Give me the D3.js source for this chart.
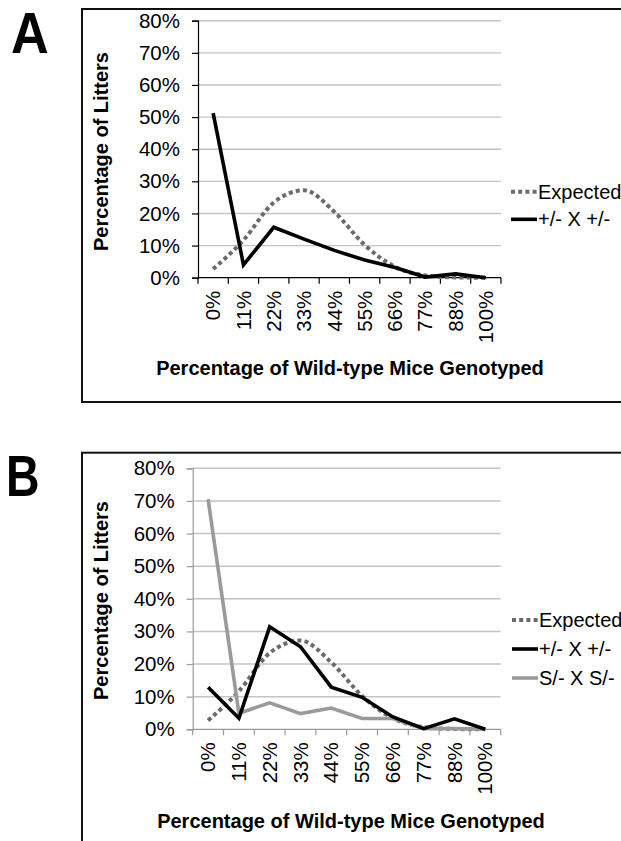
<!DOCTYPE html>
<html>
<head>
<meta charset="utf-8">
<script src="https://cdn.jsdelivr.net/npm/d3@7"></script>
<style>
  body { margin: 0; background: #fff; }
  svg { display: block; }
  text { font-family: "Liberation Sans", Arial, sans-serif; fill: #000; }
</style>
</head>
<body>
<div id="chart"></div>
<script>
const categories = ["0%", "11%", "22%", "33%", "44%", "55%", "66%", "77%", "88%", "100%"];
const yTicks = [0, 10, 20, 30, 40, 50, 60, 70, 80];

// values in percent
const expected = [2.7, 11.7, 23.4, 27.2, 20.5, 10.2, 3.4, 0.7, 0.1, 0];
const hetA = [51.2, 4.0, 15.7, 12.0, 8.5, 5.5, 3.2, 0.2, 1.2, 0];
const hetB = [12.9, 3.4, 31.4, 25.3, 12.9, 9.8, 3.8, 0.2, 3.2, 0];
const sB = [70.5, 4.9, 8.1, 4.8, 6.5, 3.3, 3.3, 0.2, 0.2, 0];

const W = 621, H = 841;

const svg = d3.select("#chart")
  .append("svg")
  .attr("width", W)
  .attr("height", H);

const STYLE = {
  expected: { stroke: "#6b6b6b", width: 4, dash: "4,3.2" },
  het: { stroke: "#000", width: 3.6, dash: null },
  s: { stroke: "#9a9a9a", width: 3.6, dash: null }
};

function drawPanel(p) {
  const g = svg.append("g");

  // outer frame (runs off the page edge like the original)
  g.append("rect")
    .attr("x", p.box[0]).attr("y", p.box[1])
    .attr("width", p.box[2]).attr("height", p.box[3])
    .attr("fill", "none")
    .attr("stroke", "#111")
    .attr("stroke-width", 2);

  g.append("text")
    .attr("transform", `translate(${p.letter[0]},${p.letter[1]}) scale(${p.letter[2]},1)`)
    .style("font-family", "'Liberation Sans', Arial, sans-serif")
    .style("font-weight", 700)
    .style("font-size", "58px")
    .text(p.name);

  const x = d3.scaleBand().domain(categories).range([p.x0, p.x1]);
  const y = d3.scaleLinear().domain([0, 80]).range([p.y0, p.y1]);

  // gridlines
  g.selectAll(".grid")
    .data(yTicks.filter(d => d > 0))
    .enter()
    .append("line")
    .attr("x1", p.x0).attr("x2", p.x1)
    .attr("y1", d => y(d)).attr("y2", d => y(d))
    .attr("stroke", "#c4c4c4")
    .attr("stroke-width", 1.4);

  // y axis
  const yAxis = g.append("g")
    .attr("transform", `translate(${p.x0},0)`)
    .call(d3.axisLeft(y).tickValues(yTicks).tickFormat(d => d + "%").tickSize(6).tickPadding(12));
  yAxis.select(".domain").attr("stroke", p.axisColor).attr("stroke-width", 1.2);
  yAxis.selectAll(".tick line").attr("stroke", p.axisColor).attr("stroke-width", 1.2);
  yAxis.selectAll(".tick text")
    .style("font-size", "20.5px")
    .style("font-family", "'Liberation Sans', Arial, sans-serif")
    .attr("fill", "#111");

  // x axis: ticks at band edges
  const xa = g.append("g");
  xa.append("line")
    .attr("x1", p.x0).attr("x2", p.x1)
    .attr("y1", p.y0).attr("y2", p.y0)
    .attr("stroke", p.axisColor).attr("stroke-width", 1.2);
  const edges = categories.map(c => x(c)).concat([p.x1]);
  xa.selectAll(".xt")
    .data(edges)
    .enter()
    .append("line")
    .attr("x1", d => d).attr("x2", d => d)
    .attr("y1", p.y0).attr("y2", p.y0 + 6)
    .attr("stroke", p.axisColor).attr("stroke-width", 1.2);
  xa.selectAll(".xl")
    .data(categories)
    .enter()
    .append("text")
    .attr("transform", d => `translate(${x(d) + x.bandwidth() / 2},${p.y0 + 13}) rotate(-90)`)
    .attr("dy", "0.35em")
    .attr("text-anchor", "end")
    .style("font-size", "20.5px")
    .attr("fill", "#111")
    .text(d => d);

  // axis titles
  g.append("text")
    .attr("transform", `translate(${p.yTitle[0]},${p.yTitle[1]}) rotate(-90)`)
    .attr("text-anchor", "middle")
    .style("font-size", "20px")
    .style("font-weight", "bold")
    .text("Percentage of Litters");
  g.append("text")
    .attr("x", p.xTitle[0]).attr("y", p.xTitle[1])
    .attr("text-anchor", "middle")
    .style("font-size", "20px")
    .style("font-weight", "bold")
    .text("Percentage of Wild-type Mice Genotyped");

  const line = d3.line()
    .x((d, i) => x(categories[i]) + x.bandwidth() / 2)
    .y(d => y(d));

  const smooth = d3.line()
    .curve(d3.curveMonotoneX)
    .x((d, i) => x(categories[i]) + x.bandwidth() / 2)
    .y(d => y(d));

  p.series.forEach(s => {
    const st = STYLE[s.style];
    g.append("path")
      .datum(s.values)
      .attr("d", s.style === "expected" ? smooth : line)
      .attr("fill", "none")
      .attr("stroke", st.stroke)
      .attr("stroke-width", st.width)
      .attr("stroke-dasharray", st.dash)
      .attr("stroke-linejoin", "miter");
  });

  // legend (drawn in legend order)
  const lg = g.append("g").attr("transform", `translate(${p.legend[0]},${p.legend[1]})`);
  p.legendItems.forEach((s, i) => {
    const st = STYLE[s.style];
    const row = lg.append("g").attr("transform", `translate(0,${i * p.legendStep})`);
    row.append("line")
      .attr("x1", 0).attr("x2", 26)
      .attr("stroke", st.stroke)
      .attr("stroke-width", st.width)
      .attr("stroke-dasharray", st.dash);
    row.append("text")
      .attr("x", 27)
      .attr("dy", "0.35em")
      .style("font-size", "20px")
      .text(s.label);
  });
}

drawPanel({
  name: "A",
  letter: [11, 53, 0.9],
  box: [82, 9, 560, 393],
  x0: 198, x1: 501, y0: 277.7, y1: 20.7,
  axisColor: "#000",
  yTitle: [108, 151.5],
  xTitle: [350, 375],
  legend: [511, 191.7],
  legendStep: 27.6,
  series: [
    { label: "Expected", style: "expected", values: expected },
    { label: "+/- X +/-", style: "het", values: hetA }
  ],
  legendItems: [
    { label: "Expected", style: "expected" },
    { label: "+/- X +/-", style: "het" }
  ]
});

drawPanel({
  name: "B",
  letter: [6, 496, 0.8],
  box: [82, 452.7, 560, 420],
  x0: 192.7, x1: 500.7, y0: 729.3, y1: 468.3,
  axisColor: "#9a9a9a",
  yTitle: [108, 600.5],
  xTitle: [351, 828.3],
  legend: [512, 620],
  legendStep: 29,
  series: [
    { label: "Expected", style: "expected", values: expected },
    { label: "S/- X S/-", style: "s", values: sB },
    { label: "+/- X +/-", style: "het", values: hetB }
  ],
  legendItems: [
    { label: "Expected", style: "expected" },
    { label: "+/- X +/-", style: "het" },
    { label: "S/- X S/-", style: "s" }
  ]
});
</script>
</body>
</html>
